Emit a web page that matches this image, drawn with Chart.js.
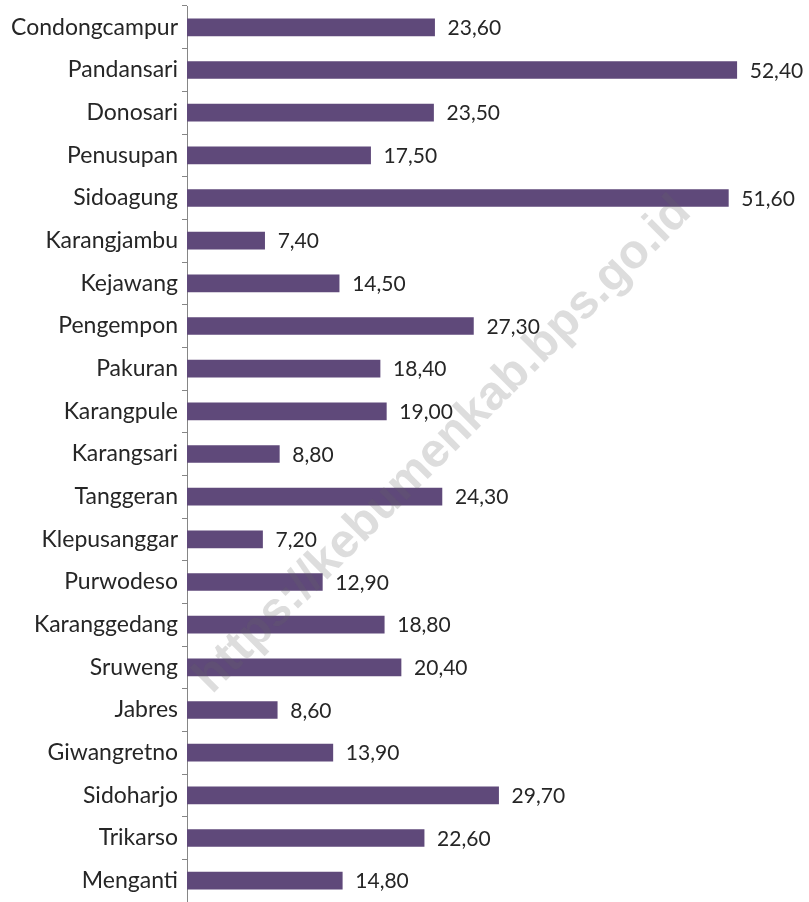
<!DOCTYPE html>
<html>
<head>
<meta charset="utf-8">
<script src="https://cdn.jsdelivr.net/npm/chart.js@4.4.1/dist/chart.umd.min.js"></script>
<style>
  body { margin: 0; background: #fff; }
  #wrap { width: 809px; height: 902px; }
</style>
</head>
<body>
<div id="wrap"><canvas id="barChart" width="809" height="902"></canvas></div>
<script>
const villages = ["Condongcampur", "Pandansari", "Donosari", "Penusupan", "Sidoagung", "Karangjambu",
  "Kejawang", "Pengempon", "Pakuran", "Karangpule", "Karangsari", "Tanggeran", "Klepusanggar",
  "Purwodeso", "Karanggedang", "Sruweng", "Jabres", "Giwangretno", "Sidoharjo", "Trikarso", "Menganti"];
const values = [23.6, 52.4, 23.5, 17.5, 51.6, 7.4, 14.5, 27.3, 18.4, 19.0, 8.8, 24.3, 7.2,
  12.9, 18.8, 20.4, 8.6, 13.9, 29.7, 22.6, 14.8];
const watermark = "https://kebumenkab.bps.go.id";

const barColor = "#5F497A";
const textColor = "#262626";
const labelFont = "Lato";

// number with comma decimals, like the source
function fmt(v) {
  return v.toFixed(2).replace(".", ",");
}

// watermark sits on top of everything, semi transparent
const watermarkPlugin = {
  id: "watermark",
  afterDraw(chart) {
    const ctx = chart.ctx;
    ctx.save();
    ctx.translate(443, 445);
    ctx.rotate(-Math.PI / 4);
    ctx.font = "bold 48px 'Liberation Sans'";
    ctx.fillStyle = "rgba(100,100,100,0.22)";
    ctx.textAlign = "center";
    ctx.textBaseline = "middle";
    ctx.fillText(watermark, 0, 0);
    ctx.restore();
  }
};

const valueLabels = {
  id: "valueLabels",
  afterDatasetsDraw(chart) {
    const ctx = chart.ctx;
    const meta = chart.getDatasetMeta(0);
    ctx.save();
    ctx.font = "21px " + labelFont;
    ctx.fillStyle = textColor;
    ctx.textAlign = "left";
    ctx.textBaseline = "middle";
    meta.data.forEach((bar, i) => {
      ctx.fillText(fmt(values[i]), bar.x + 13, bar.y + 1);
    });
    ctx.restore();
  }
};

new Chart(document.getElementById("barChart").getContext("2d"), {
  type: "bar",
  data: {
    labels: villages,
    datasets: [{
      data: values,
      backgroundColor: barColor,
      barThickness: 17
    }]
  },
  options: {
    indexAxis: "y",
    responsive: false,
    maintainAspectRatio: false,
    animation: false,
    layout: { padding: { top: 6, right: 3, bottom: 0, left: 0 } },
    plugins: {
      legend: { display: false },
      tooltip: { enabled: false }
    },
    scales: {
      x: {
        display: false,
        min: 0,
        max: 59
      },
      y: {
        afterFit(scale) {
          scale.width = 187;
          scale.paddingTop = 0;
          scale.paddingBottom = 0;
        },
        grid: {
          drawOnChartArea: false,
          tickLength: 5,
          color: "#868686",
          offset: true
        },
        border: { display: true, color: "#868686", width: 1 },
        ticks: {
          padding: 4,
          color: textColor,
          font: { family: labelFont, size: 23 }
        }
      }
    }
  },
  plugins: [valueLabels, watermarkPlugin]
});
</script>
</body>
</html>
